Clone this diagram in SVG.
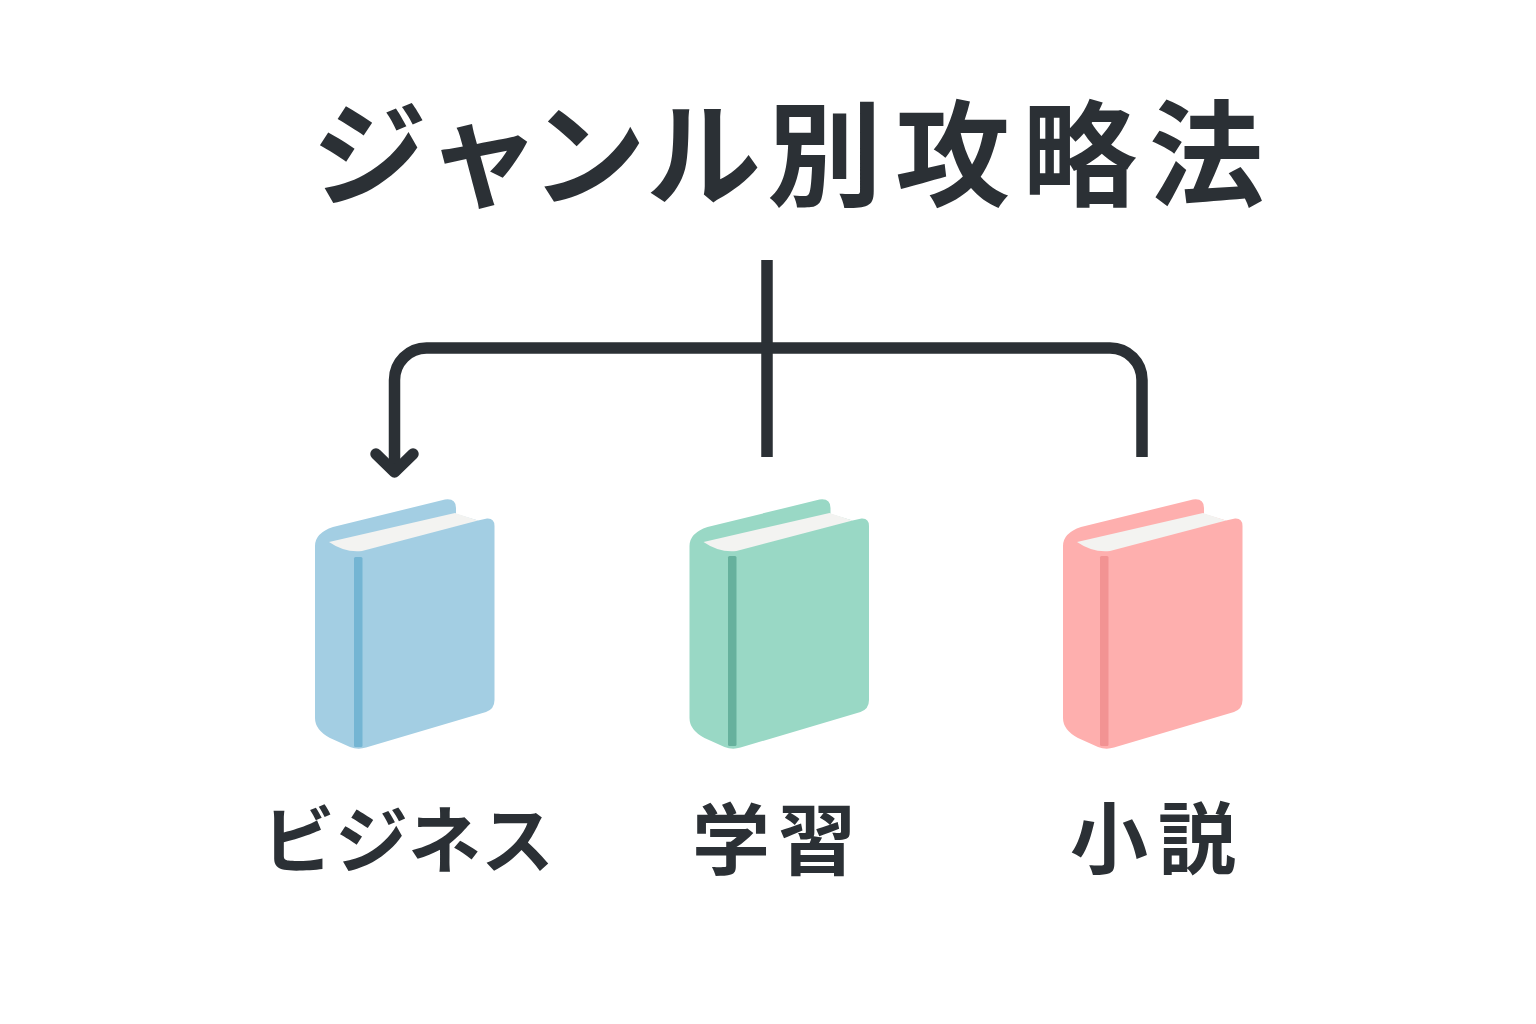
<svg xmlns="http://www.w3.org/2000/svg" width="1536" height="1024" viewBox="0 0 1536 1024">
<style>
.t{font-family:"Noto Sans CJK JP","Noto Sans",sans-serif;font-weight:700;fill:#2b3035}
.c{fill:none;stroke:#2b3035;stroke-width:11.500}
.a{stroke-linecap:round;stroke-linejoin:round}
.pg{fill:#f3f3f1}
.blue{fill:#a3cee3}.blue .s{fill:#74b5d3}
.green{fill:#99d8c5}.green .s{fill:#66b19d}
.red{fill:#feafae}.red .s{fill:#f29393}
</style>
<defs>
<g id="book">
<path d="M333 527 L445 499.500 Q456 498 456 508 L456 514 L478 520.500 L487 518.500 Q494.500 518 494.500 526 L494.500 700 Q494.500 709 486 712 L366 747.500 Q358 750 350 747 L330 738 Q315 730 315 718 L315 546 Q315 533 333 527Z"/>
<path class="pg" d="M329 542 L455 513 L478 520.500 L362 551 Q345 553 329 542Z"/>
</g>
</defs>
<rect width="1536" height="1024" fill="#fff"/>
<g id="title"><text class="t" x="312 426 531 646 767 895 1022 1149" y="197" font-size="115">ジャンル別攻略法</text></g>
<g id="connectors">
<path class="c" d="M767 260V457"/>
<path class="c" d="M394.500 470V380A32 32 0 0 1 426.500 348H1110A32 32 0 0 1 1142 380V457"/>
<path class="c a" d="M376 454L394.500 472L413 454"/>
</g>
<g id="node-business" class="blue"><use href="#book"/><rect class="s" x="354" y="557" width="8.500" height="190" rx="1.500"/><text class="t" x="408" y="867" font-size="73" text-anchor="middle">ビジネス</text></g>
<g id="node-study" class="green"><use href="#book" x="374.500"/><rect class="s" x="728" y="556" width="8.500" height="190" rx="1.500"/><text class="t" x="692 778" y="869" font-size="78">学習</text></g>
<g id="node-novel" class="red"><use href="#book" x="748"/><rect class="s" x="1100" y="556" width="8.500" height="190" rx="1.500"/><text class="t" x="1070 1158" y="868" font-size="78">小説</text></g>
</svg>
